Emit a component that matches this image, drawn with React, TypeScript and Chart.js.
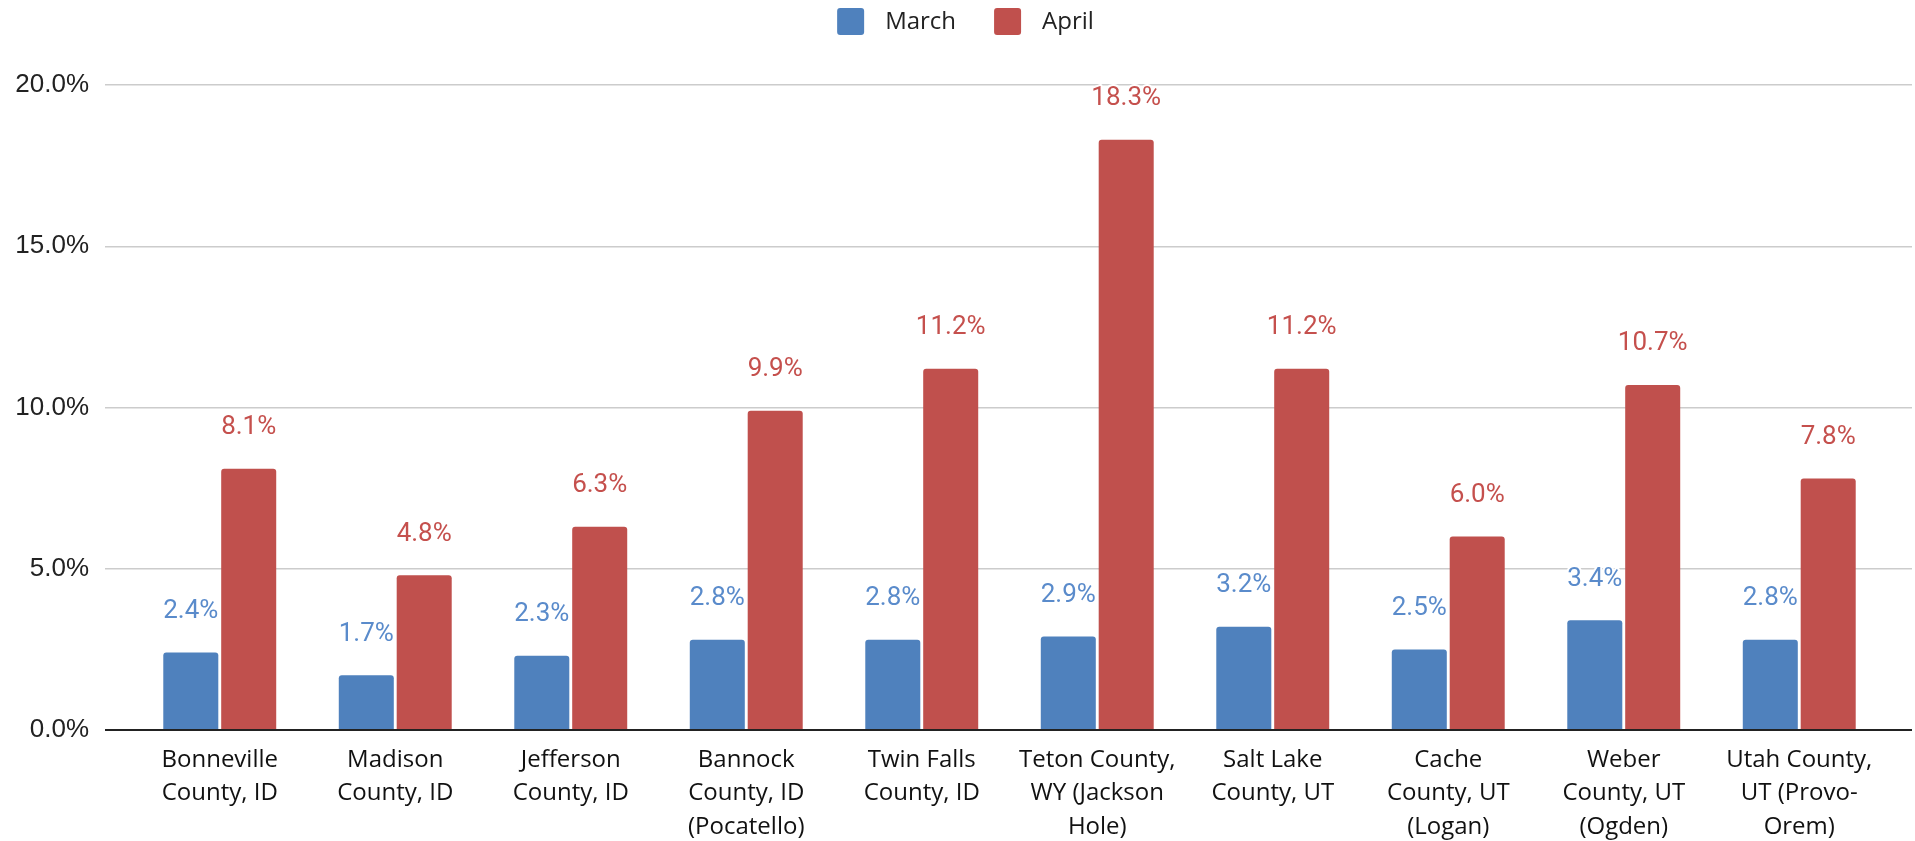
import React, { useEffect, useRef } from "react";
import { Chart, registerables } from "chart.js";

Chart.register(...registerables);

const categories: string[][] = [
  ["Bonneville", "County, ID"],
  ["Madison", "County, ID"],
  ["Jefferson", "County, ID"],
  ["Bannock", "County, ID", "(Pocatello)"],
  ["Twin Falls", "County, ID"],
  ["Teton County,", "WY (Jackson", "Hole)"],
  ["Salt Lake", "County, UT"],
  ["Cache", "County, UT", "(Logan)"],
  ["Weber", "County, UT", "(Ogden)"],
  ["Utah County,", "UT (Provo-", "Orem)"],
];

const marchValues = [2.4, 1.7, 2.3, 2.8, 2.8, 2.9, 3.2, 2.5, 3.4, 2.8];
const aprilValues = [8.1, 4.8, 6.3, 9.9, 11.2, 18.3, 11.2, 6.0, 10.7, 7.8];

const seriesNames = ["March", "April"];
const barColors = ["#4F81BD", "#C0504D"];
const labelColors = ["#5A8BCB", "#C5504D"];

const yMin = 0;
const yMax = 20;
const yStep = 5;

const gridColor = (ctx: any) => (ctx.tick && ctx.tick.value === 0 ? "#222222" : "#CCCCCC");
const gridWidth = (ctx: any) => (ctx.tick && ctx.tick.value === 0 ? 2 : 1.5);

const valueLabelPlugin = {
  id: "valueLabels",
  afterDatasetsDraw(chart: any) {
    const ctx = chart.ctx;
    ctx.save();
    ctx.font = "26px Roboto";
    ctx.textAlign = "center";
    ctx.textBaseline = "middle";
    ctx.lineJoin = "round";
    chart.data.datasets.forEach((ds: any, di: number) => {
      const meta = chart.getDatasetMeta(di);
      meta.data.forEach((el: any, i: number) => {
        const v = ds.data[i];
        const txt = v.toFixed(1) + "%";
        const y = el.y - 41;
        ctx.strokeStyle = "#FFFFFF";
        ctx.lineWidth = 4;
        ctx.strokeText(txt, el.x, y);
        ctx.fillStyle = labelColors[di];
        ctx.fillText(txt, el.x, y);
      });
    });
    ctx.restore();
  },
};

const legendPlugin = {
  id: "customLegend",
  afterDraw(chart: any) {
    const ctx = chart.ctx;
    ctx.save();
    ctx.font = "24px 'Open Sans'";
    ctx.textBaseline = "middle";
    ctx.textAlign = "left";
    const box = 27;
    const gap = 21;
    const itemGap = 38;
    const widths = chart.data.datasets.map((ds: any) => ctx.measureText(ds.label).width);
    let total = 0;
    widths.forEach((w: number, i: number) => {
      total += box + gap + w + (i > 0 ? itemGap : 0);
    });
    let x = chart.width / 2 + 8 - total / 2;
    const cy = 21.5;
    chart.data.datasets.forEach((ds: any, i: number) => {
      ctx.fillStyle = ds.backgroundColor;
      ctx.beginPath();
      if (ctx.roundRect) {
        ctx.roundRect(x, cy - box / 2, box, box, 3);
      } else {
        ctx.rect(x, cy - box / 2, box, box);
      }
      ctx.fill();
      ctx.fillStyle = "#222222";
      ctx.fillText(ds.label, x + box + gap, cy + 1);
      x += box + gap + widths[i] + itemGap;
    });
    ctx.restore();
  },
};

export default function App() {
  const canvasRef = useRef<HTMLCanvasElement | null>(null);

  useEffect(() => {
    document.body.style.margin = "0";
    document.body.style.overflow = "hidden";
    const canvas = canvasRef.current;
    if (!canvas) return;
    const chart = new Chart(canvas, {
      type: "bar",
      data: {
        labels: categories,
        datasets: [
          {
            label: seriesNames[0],
            data: marchValues,
            backgroundColor: barColors[0],
            borderRadius: 3,
            barPercentage: 0.95,
            categoryPercentage: 0.66,
          },
          {
            label: seriesNames[1],
            data: aprilValues,
            backgroundColor: barColors[1],
            borderRadius: 3,
            barPercentage: 0.95,
            categoryPercentage: 0.66,
          },
        ],
      },
      options: {
        responsive: false,
        animation: false,
        devicePixelRatio: 1,
        layout: { padding: { top: 85, right: 0, left: 0, bottom: 0 } },
        plugins: {
          legend: { display: false },
          tooltip: { enabled: false },
          title: { display: false },
        },
        scales: {
          x: {
            grid: { display: false, drawTicks: false },
            border: { display: false },
            ticks: {
              autoSkip: false,
              maxRotation: 0,
              minRotation: 0,
              padding: 13,
              color: "#111111",
              font: { family: "'Open Sans'", size: 24, lineHeight: 1.4 },
            },
            afterFit(scale: any) {
              scale.height = 111;
            },
          },
          y: {
            min: yMin,
            max: yMax,
            border: { display: false },
            grid: {
              color: gridColor,
              lineWidth: gridWidth,
              drawTicks: true,
              tickLength: 27,
            },
            ticks: {
              stepSize: yStep,
              padding: 16,
              color: "#222222",
              font: { family: "'Liberation Sans'", size: 26 },
              callback: (v: any) => Number(v).toFixed(1) + "%",
            },
            afterFit(scale: any) {
              scale.width = 132;
            },
          },
          y2: {
            position: "right",
            min: yMin,
            max: yMax,
            border: { display: false },
            grid: {
              color: gridColor,
              lineWidth: gridWidth,
              drawOnChartArea: false,
              drawTicks: true,
              tickLength: 25,
            },
            ticks: { stepSize: yStep, display: false },
            afterFit(scale: any) {
              scale.width = 28;
            },
          },
        },
      },
      plugins: [valueLabelPlugin, legendPlugin],
    });
    return () => chart.destroy();
  }, []);

  return (
    <div style={{ width: 1915, height: 841 }}>
      <canvas ref={canvasRef} width={1915} height={841} style={{ display: "block" }} />
    </div>
  );
}
